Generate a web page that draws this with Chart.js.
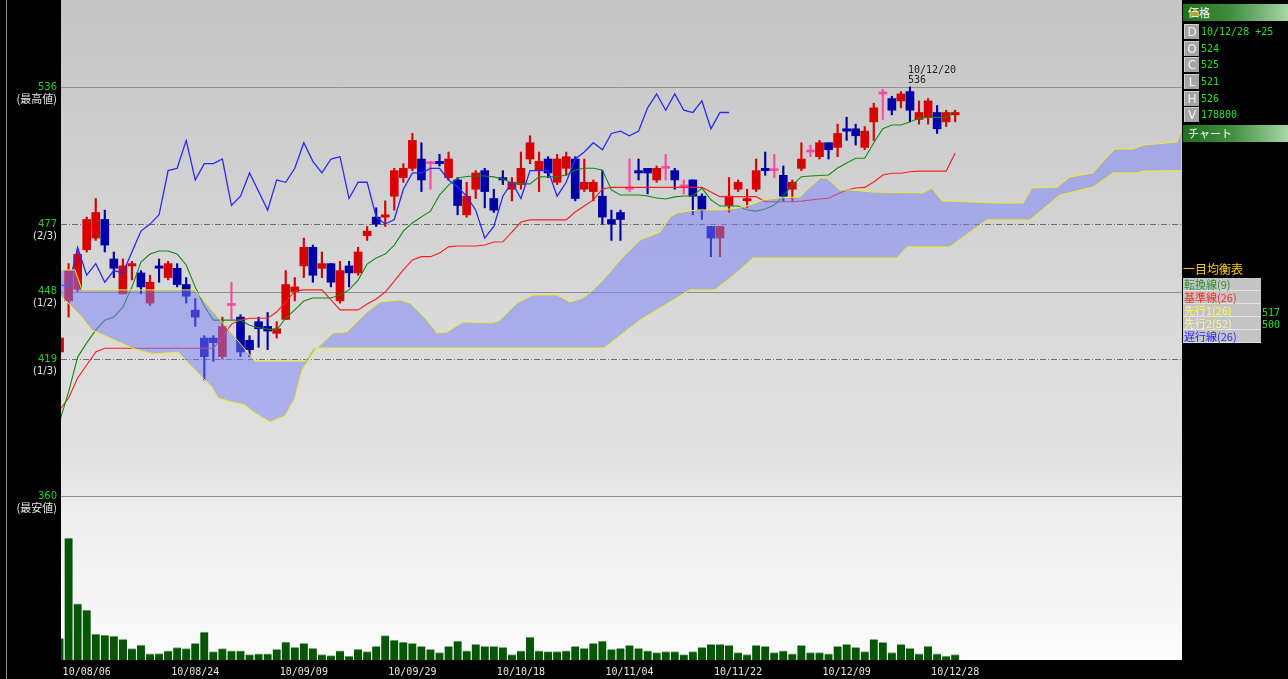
<!DOCTYPE html>
<html>
<head>
<meta charset="utf-8">
<script src="https://cdn.jsdelivr.net/npm/chart.js@4.4.1/dist/chart.umd.min.js"></script>
<style>
  html, body { margin: 0; padding: 0; background: #000; overflow: hidden; }
  #wrap { position: relative; width: 1288px; height: 679px; }
  #c { position: absolute; left: 0; top: 0; }
  .side { position: absolute; left: 1182px; top: 0; width: 106px; height: 679px; font-family: "Noto Sans CJK JP", sans-serif; }
  .hdr { position: absolute; left: 1px; width: 105px; height: 17px; padding-left: 5px; box-sizing: border-box;
         color: #fff; font-size: 11px; line-height: 17px;
         background: linear-gradient(to right, #1f6f1f, #3e8e3e 45%, #a6d6a6); }
  .row { position: absolute; left: 2px; width: 104px; height: 16px; }
  .key { position: absolute; left: 0; top: 0; width: 15px; height: 15px; box-sizing: border-box;
         background: #a4a4a4; color: #f2f2f2; text-align: center;
         font: 12px/15px "DejaVu Sans", sans-serif;
         border-top: 1px solid #d0d0d0; border-left: 1px solid #d0d0d0; }
  .val { position: absolute; left: 17px; top: 0; color: #22e022; white-space: nowrap;
         font: 10px/16px "DejaVu Sans Mono", monospace; }
  .ttl { position: absolute; left: 1px; top: 261px; color: #ffcc00; font-size: 12px; line-height: 16px; }
  .lg { position: absolute; left: 1px; top: 278px; width: 78px; background: #c4c4c4; }
  .lg div { height: 12px; line-height: 12px; font-size: 11px; padding-left: 1px; border-bottom: 1px solid #e2e2e2; white-space: nowrap; }
  .num { position: absolute; left: 80px; color: #22e022; font: 10px/12px "DejaVu Sans Mono", monospace; }
</style>
</head>
<body>
<div id="wrap">
  <canvas id="c" width="1288" height="679"></canvas>
  <div class="side">
    <div class="hdr" style="top:4px">価格</div>
    <div class="row" style="top:24px"><span class="key">D</span><span class="val" id="vD"></span></div>
    <div class="row" style="top:41px"><span class="key">O</span><span class="val" id="vO"></span></div>
    <div class="row" style="top:57px"><span class="key">C</span><span class="val" id="vC"></span></div>
    <div class="row" style="top:74px"><span class="key">L</span><span class="val" id="vL"></span></div>
    <div class="row" style="top:91px"><span class="key">H</span><span class="val" id="vH"></span></div>
    <div class="row" style="top:107px"><span class="key">V</span><span class="val" id="vV"></span></div>
    <div class="hdr" style="top:125px">チャート</div>
    <div class="ttl">一目均衡表</div>
    <div class="lg">
      <div style="color:#2f8f2f">転換線(9)</div>
      <div style="color:#ff2a2a">基準線(26)</div>
      <div style="color:#ffff3a">先行1(26)</div>
      <div style="color:#f4f4a4">先行2(52)</div>
      <div style="color:#2a2aff">遅行線(26)</div>
    </div>
    <div class="num" id="nA" style="top:307px"></div>
    <div class="num" id="nB" style="top:319px"></div>
  </div>
</div>
<script>
// daily bars 10/08/03 .. 10/12/28 (index 0..99)
const opens = [422,444,449,466,471,479,462,447,459,456, 443,459,454,458,451,440,428,428,420,442,
  437,427,435,433,430,436,448,459,467,458, 460,444,459,456,472,480,480,489,497,501,
  505,503,504,497,496,481,492,500,488,497, 492,494,505,500,505,495,501,505,492,491,
  489,479,482,492,500,501,496,501,500,493, 496,489,476,471,485,492,487,492,501,500,
  498,492,501,508,506,512,510,518,518,510, 521,533,531,530,534,522,523,525,521,524];
const highs = [429,460,466,480,488,483,465,462,461,457, 455,462,461,460,454,445,429,429,437,452,
  438,429,437,439,435,457,454,471,468,465, 460,461,461,467,476,484,487,501,503,516,
  512,504,507,508,497,495,500,501,492,500, 497,508,515,508,506,507,508,506,505,496,
  500,483,483,505,505,501,502,507,501,496, 496,490,476,476,497,496,492,505,508,507,
  502,496,512,511,513,512,520,523,520,519, 529,535,532,534,536,530,531,528,526,526];
const lows = [421,437,448,465,470,465,454,447,453,447, 442,452,453,450,443,433,410,418,419,436,
  420,420,424,423,428,436,444,454,452,454, 450,443,450,455,470,476,476,483,495,500,
  491,492,502,496,481,480,488,484,482,494, 487,492,503,491,497,494,498,487,491,487,
  477,470,470,491,496,490,495,496,492,490, 481,479,463,463,482,491,484,491,498,497,
  487,487,500,506,505,505,506,513,511,509, 513,522,524,527,521,520,520,516,519,521];
const closes = [428,457,464,479,482,468,458,459,460,450, 452,458,460,451,446,437,420,426,433,442,
  422,423,432,431,432,451,450,467,455,460, 452,457,456,465,474,477,481,500,501,513,
  496,503,503,505,485,489,499,491,483,496, 495,501,512,504,499,505,506,488,495,495,
  480,477,479,492,499,499,501,501,496,493, 489,483,471,476,489,495,488,500,500,500,
  489,495,505,508,512,509,516,517,515,517, 527,533,526,533,526,525,530,518,525,525];
const volumes = [731000,4111000,1897000,1685000,876000,843000,809000,698000,381000,506000,
  212000,215000,313000,415000,381000,563000,944000,280000,381000,313000,
  313000,179000,212000,212000,361000,607000,428000,563000,394000,179000,
  145000,313000,135000,361000,280000,462000,819000,674000,607000,563000,
  462000,361000,246000,462000,640000,313000,529000,462000,462000,428000,
  179000,313000,775000,313000,280000,280000,313000,462000,394000,563000,
  640000,361000,394000,495000,394000,313000,246000,280000,280000,179000,
  280000,428000,529000,529000,495000,246000,179000,495000,462000,246000,
  313000,212000,495000,246000,246000,212000,462000,529000,428000,280000,
  698000,597000,246000,529000,394000,212000,462000,212000,135000,178800];

// 転換線 / 基準線, one value per bar
const tenkan = [392,404.8,419.8,425.9,431.4,435.7,437,441.3,449.9,460.7, 464.1,465.4,465.4,464.1,459.4,449.9,441.8,435.7,435.7,435.7,
  435.7,433.5,432.4,431.9,431.4,436.6,440.1,443.9,445.2,445.2, 445.2,446.5,448.7,452.9,459.8,462.4,464.1,468,474,477.5,
  480.1,482.6,489.5,493.8,496.8,497.5,497.7,497.7,497.3,496.4, 494.7,494.3,494.3,497.3,497.4,497.4,498.1,500.3,501,501,
  500.3,491.7,489.5,489.5,489.5,489.1,488.2,487.8,488.7,489.1, 489.1,492.5,487.4,484.8,484.8,484.8,483.1,482.6,483.5,485.2,
  489.1,493.8,497.4,497.7,497.9,498.1,501.1,503.3,505.3,505.3, 512,518,519.6,519.6,520.9,522.6,522.9,522.9,522.9,525.7];
const kijun = [397,402.2,410.8,416.4,422,423.6,423.6,423.6,423.6,423.6, 423.6,423.6,423.6,423.6,423.6,423.6,423.6,423.6,428.4,434,
  435.7,436.5,436.5,436.5,439.2,443.5,448.2,448.7,448.7,448.7, 444.4,440.1,440.1,440.1,442.6,444.8,447.8,452.5,457.3,461.6,
  463,463,464.6,467.2,467.6,467.6,467.6,468,469.3,469.4, 473.6,477.9,478.8,478.8,478.8,478.8,478.8,482.2,484.8,487.4,
  492.1,492.8,492.8,492.8,492.8,492.8,492.8,492.8,492.8,492.8, 492.8,492.8,490.8,488.8,488.8,488.8,488.8,488.8,486.6,486.6,
  486.6,486.6,486.9,487.4,487.8,488.1,489.9,491.7,492.5,492.8, 495.1,498.1,498.9,498.9,499.5,499.8,499.8,499.8,499.8,507.6];

// 先行スパン, [bar position, price] read along the cloud edges
const senkouA = [[0.16,446.1],[2.26,437.9],[3.59,431.4],[5.35,428.4],[8.01,423.7],[10.22,421.1],[13.09,422],[14.2,417.3],
  [16.85,406.9],[17.51,402.2],[19.06,400.5],[20.5,399.2],[21.6,395.7],[23.26,391.9],[24.92,394.5],[26.03,402.2],
  [26.8,414.2],[28.24,422.8],[30.22,430.2],[31.77,430.6],[33.98,439.2],[35.42,443.5],[37.63,444.4],[38.73,443.1],
  [40.61,435.7],[41.72,430.2],[42.83,430.6],[44.6,434.9],[47.91,434.5],[48.68,435.7],[50.56,443.1],[52.33,446.5],
  [54.98,446.5],[56.42,443.5],[57.85,445.2],[58.96,448.7],[60.07,453],[62.28,462.9],[64.16,470.2],[66.37,473.6],
  [67.48,480.1],[68.25,481.8],[70.46,483.1],[73.33,483.1],[74.88,483.9],[76.32,485.2],[77.75,487.4],[79.3,488.2],
  [81.84,488.7],[82.62,491.7],[84.06,496.8],[84.83,496.8],[86.27,491.7],[87.37,491.7],[89.91,490.8],[95.44,490.4],
  [96.43,492.5],[97.54,487],[100.97,486.5],[103.18,486.1],[106.49,486.1],[107.49,492.5],[110.25,492.9],[111.69,497.3],
  [114.23,499],[115.78,505.9],[116.66,509.3],[118.65,509.3],[119.76,511],[123.52,512.3],[124,517]];
const senkouB = [[0.16,457.3],[1.71,457.3],[2.48,448.7],[14.97,448.7],[21.6,418.1],[27.13,418.1],[28.12,423.7],[60.18,423.7],
  [64.16,435.7],[69.68,448.7],[72.45,448.7],[75.21,457.3],[76.65,462.4],[92.57,462.4],[93.67,467.2],[98.42,467.2],
  [99.86,471.4],[102.51,478.8],[107.26,478.8],[108.59,483.1],[110.58,489.5],[114.23,492.9],[116.44,499],[119.09,499],
  [119.76,499.8],[124,500]];
const lag = 25;

const dateTicks = [3, 15, 27, 39, 51, 63, 75, 87, 99];
const dateLabels = ['10/08/06','10/08/24','10/09/09','10/09/29','10/10/18','10/11/04','10/11/22','10/12/09','10/12/28'];
const levelValues = [536, 477, 448, 419, 360];
const levelNotes = ['(最高値)', '(2/3)', '(1/2)', '(1/3)', '(最安値)'];
const peakIdx = 94, peakDate = '10/12/20';
const lastDate = '10/12/28 +25';

const UP = '#d80000', DOWN = '#0000a6', DOJI = '#ff4aa2';
const candleColor = closes.map((c, i) => c > opens[i] ? UP : (c < opens[i] ? DOWN : DOJI));

const frame = {
  id: 'frame',
  beforeDraw(chart) {
    const { ctx, chartArea: a, width, height } = chart;
    const y = chart.scales.y;
    ctx.save();
    ctx.fillStyle = '#000';
    ctx.fillRect(0, 0, width, height);
    const g = ctx.createLinearGradient(0, a.top, 0, a.bottom);
    g.addColorStop(0, '#c5c5c5');
    g.addColorStop(0.7, '#e2e2e2');
    g.addColorStop(0.76, '#ececec');
    g.addColorStop(1, '#fbfbfb');
    ctx.fillStyle = g;
    ctx.fillRect(a.left, a.top, a.right - a.left, a.bottom - a.top);
    ctx.fillStyle = '#8c8c8c';
    ctx.fillRect(6, 0, 1, height);
    levelValues.forEach((v, k) => {
      const py = Math.round(y.getPixelForValue(v)) + 0.5;
      ctx.beginPath();
      ctx.setLineDash(k % 2 ? [6, 2, 1, 2] : []);
      ctx.strokeStyle = k % 2 ? '#6e6e6e' : '#8e8e8e';
      ctx.lineWidth = 1;
      ctx.moveTo(a.left, py);
      ctx.lineTo(a.right, py);
      ctx.stroke();
    });
    ctx.restore();
  },
  afterDraw(chart) {
    const { ctx } = chart;
    const x = chart.scales.x, y = chart.scales.y;
    ctx.save();
    ctx.textBaseline = 'middle';
    ctx.textAlign = 'right';
    levelValues.forEach((v, k) => {
      const py = y.getPixelForValue(v);
      ctx.fillStyle = '#1ed21e';
      ctx.font = '10px "DejaVu Sans"';
      ctx.fillText(String(v), 57, py);
      ctx.fillStyle = '#e8e8e8';
      ctx.font = (k === 0 || k === 4) ? '11px "Noto Sans CJK JP"' : '10px "DejaVu Sans"';
      ctx.fillText(levelNotes[k], 57, py + 12);
    });
    ctx.textAlign = 'center';
    ctx.fillStyle = '#e6e6e6';
    ctx.font = '10px "DejaVu Sans Mono"';
    dateTicks.forEach((t, k) => ctx.fillText(dateLabels[k], x.getPixelForValue(t), 672));
    ctx.textAlign = 'left';
    ctx.fillStyle = '#222';
    const px = x.getPixelForValue(peakIdx) - 2, py = y.getPixelForValue(highs[peakIdx]);
    ctx.fillText(peakDate, px, py - 17);
    ctx.fillText(String(highs[peakIdx]), px, py - 7);
    ctx.restore();
  }
};

const last = closes.length - 1;
document.getElementById('vD').textContent = lastDate;
document.getElementById('vO').textContent = opens[last];
document.getElementById('vC').textContent = closes[last];
document.getElementById('vL').textContent = lows[last];
document.getElementById('vH').textContent = highs[last];
document.getElementById('vV').textContent = volumes[last];
document.getElementById('nA').textContent = Math.round(senkouA[senkouA.length - 1][1]);
document.getElementById('nB').textContent = Math.round(senkouB[senkouB.length - 1][1]);

new Chart(document.getElementById('c'), {
  type: 'bar',
  data: {
    datasets: [
      { label: '出来高', yAxisID: 'yv', order: 6, grouped: false, barThickness: 8,
        data: volumes.map((v, i) => ({ x: i, y: v })),
        backgroundColor: '#075607', borderColor: '#7fb07f', borderWidth: { top: 1, left: 0, right: 0, bottom: 0 }, borderSkipped: 'bottom' },
      { label: 'ヒゲ', order: 5, grouped: false, barThickness: 1.5,
        data: highs.map((h, i) => ({ x: i, y: [lows[i], h] })),
        backgroundColor: candleColor },
      { label: '実体', order: 4, grouped: false, barThickness: 8, minBarLength: 2,
        data: opens.map((o, i) => ({ x: i, y: [o, closes[i]] })),
        backgroundColor: candleColor },
      { type: 'line', label: '転換線', order: 3, data: tenkan.map((v, i) => ({ x: i, y: v })),
        borderColor: '#138a13', borderWidth: 1.1, pointRadius: 0, fill: false },
      { type: 'line', label: '基準線', order: 3, data: kijun.map((v, i) => ({ x: i, y: v })),
        borderColor: '#ff1e1e', borderWidth: 1.1, pointRadius: 0, fill: false },
      { type: 'line', label: '遅行線', order: 2, data: closes.slice(lag).map((v, i) => ({ x: i, y: v })),
        borderColor: '#2a2aff', borderWidth: 1.3, pointRadius: 0, fill: false },
      { type: 'line', label: '先行1', order: 1, data: senkouA.map(([x, y]) => ({ x, y })),
        borderColor: '#eeee22', borderWidth: 1, pointRadius: 0,
        fill: '+1', backgroundColor: 'rgba(120,128,250,0.5)' },
      { type: 'line', label: '先行2', order: 0, data: senkouB.map(([x, y]) => ({ x, y })),
        borderColor: '#eeee22', borderWidth: 1, pointRadius: 0, fill: false }
    ]
  },
  options: {
    responsive: false,
    animation: false,
    devicePixelRatio: 1,
    events: [],
    layout: { padding: { left: 61, right: 106, top: 0, bottom: 19 } },
    plugins: { legend: { display: false }, tooltip: { enabled: false } },
    scales: {
      x: { type: 'linear', min: 0.16, max: 124.07, offset: false, display: false },
      y: { min: 289.5, max: 573.4, display: false },
      yv: { min: 0, max: 22242000, display: false }
    }
  },
  plugins: [frame]
});
</script>
</body>
</html>
